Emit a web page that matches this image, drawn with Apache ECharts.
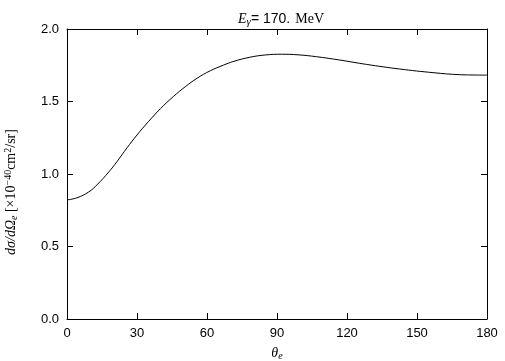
<!DOCTYPE html>
<html><head><meta charset="utf-8">
<script src="https://cdn.jsdelivr.net/npm/echarts@6/dist/echarts.min.js"></script>
<style>html,body{margin:0;padding:0;background:#fff}#c{width:505px;height:361px}</style>
</head><body><div id="c"></div>
<script>
const theta = [0, 4.3, 9.3, 12.9, 17.9, 21.4, 25.7, 30, 35, 40, 45.7, 50.7, 55.7, 61.4, 67.1, 71.1, 78.3, 85, 92, 99, 106.9, 116.9, 128.3, 142.6, 156.9, 168.3, 180];
const sigma = [0.821, 0.836, 0.876, 0.926, 1.014, 1.085, 1.180, 1.269, 1.363, 1.450, 1.536, 1.602, 1.660, 1.712, 1.751, 1.775, 1.805, 1.821, 1.826, 1.822, 1.809, 1.786, 1.756, 1.724, 1.699, 1.685, 1.682];
const xTicks = [0, 30, 60, 90, 120, 150, 180];
const yTicks = [0.0, 0.5, 1.0, 1.5, 2.0];

const lab = {color:'#000', fontFamily:'Liberation Sans', fontSize:13};
const chart = echarts.init(document.getElementById('c'), null, {renderer:'canvas'});
chart.setOption({
  animation:false,
  title:{
    text:'{e|E}{g|γ}{s|= 170.} {m|MeV}',
    left:276, top:5, textAlign:'center',
    textStyle:{
      fontWeight:'normal',
      rich:{
        e:{fontFamily:'Liberation Serif', fontStyle:'italic', fontWeight:'normal', fontSize:14, color:'#000'},
        g:{fontFamily:'Liberation Serif', fontStyle:'italic', fontWeight:'normal', fontSize:11, color:'#000', verticalAlign:'bottom', padding:[4,0,0,0]},
        s:{fontFamily:'Liberation Sans', fontWeight:'normal', fontSize:14, color:'#000'},
        m:{fontFamily:'Liberation Serif', fontWeight:'normal', fontSize:14, color:'#000'}
      }
    }
  },
  grid:{left:67, right:18, top:29, bottom:42, outerBoundsMode:'none', containLabel:false},
  xAxis:[{
    type:'value', min:0, max:180, interval:30, position:'bottom',
    axisLine:{onZero:false, lineStyle:{color:'#000', width:1}},
    axisTick:{inside:true, length:6, lineStyle:{color:'#000'}},
    axisLabel:Object.assign({margin:8, formatter:v=>xTicks.includes(v)?String(v):''}, lab),
    splitLine:{show:false},
    name:'{t|θ}{s|e}', nameLocation:'middle', nameGap:27,
    nameTextStyle:{rich:{
      t:{fontFamily:'Liberation Serif', fontStyle:'italic', fontSize:14, color:'#000'},
      s:{fontFamily:'Liberation Serif', fontStyle:'italic', fontSize:10, color:'#000', verticalAlign:'bottom', padding:[5,0,0,0]}
    }}
  },{
    type:'value', min:0, max:180, interval:30, position:'top',
    axisLine:{onZero:false, lineStyle:{color:'#000', width:1}},
    axisTick:{inside:true, length:6, lineStyle:{color:'#000'}},
    axisLabel:{show:false}, splitLine:{show:false}
  }],
  yAxis:[{
    type:'value', min:0, max:2, interval:0.5, position:'left',
    axisLine:{show:true, onZero:false, lineStyle:{color:'#000', width:1}},
    axisTick:{show:true, inside:true, length:6, lineStyle:{color:'#000'}},
    axisLabel:Object.assign({margin:8, formatter:v=>v.toFixed(1)}, lab),
    splitLine:{show:false},
    name:'{a|dσ/dΩ}{b|e}{c| [×10}{d|−40}{c|cm}{d|2}{c|/sr]}',
    nameLocation:'middle', nameGap:48, nameRotate:90,
    nameTextStyle:{padding:[0,36,0,0], rich:{
      a:{fontFamily:'Liberation Serif', fontStyle:'italic', fontSize:14, color:'#000'},
      b:{fontFamily:'Liberation Serif', fontStyle:'italic', fontSize:10, color:'#000', verticalAlign:'bottom', padding:[5,0,0,0]},
      c:{fontFamily:'Liberation Serif', fontSize:14, color:'#000'},
      d:{fontFamily:'Liberation Serif', fontSize:10, color:'#000', verticalAlign:'top', padding:[0,0,6,0]}
    }}
  },{
    type:'value', min:0, max:2, interval:0.5, position:'right',
    axisLine:{show:true, onZero:false, lineStyle:{color:'#000', width:1}},
    axisTick:{show:true, inside:true, length:6, lineStyle:{color:'#000'}},
    axisLabel:{show:false}, splitLine:{show:false}
  }],
  series:[{
    type:'line', xAxisIndex:0, yAxisIndex:0, smooth:0.4, showSymbol:false,
    lineStyle:{color:'#000', width:1},
    data: theta.map((t,i)=>[t, sigma[i]])
  }]
});
</script></body></html>
